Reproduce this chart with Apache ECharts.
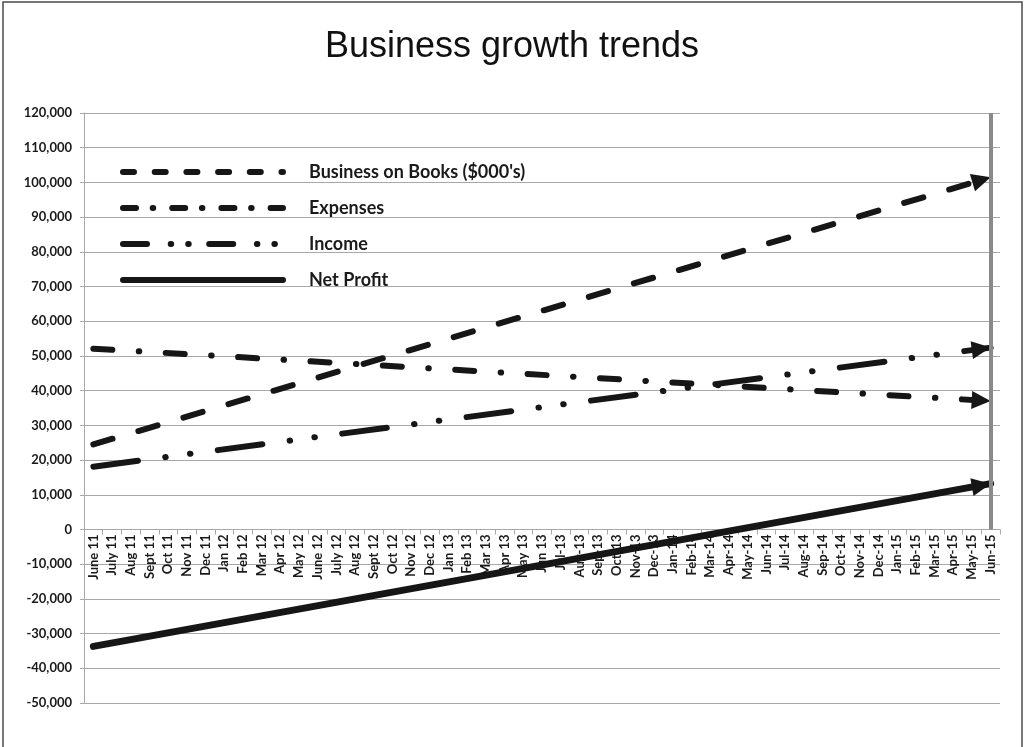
<!DOCTYPE html>
<html>
<head>
<meta charset="utf-8">
<title>Business growth trends</title>
<script src="https://cdn.jsdelivr.net/npm/echarts@6/dist/echarts.min.js"></script>
<style>
  html, body { margin: 0; padding: 0; background: #fff; }
  #chart { width: 1024px; height: 747px; }
</style>
</head>
<body>
<div id="chart"></div>
<script>
// month categories, June 2011 .. June 2015
var months = [
  'June 11', 'July 11', 'Aug 11', 'Sept 11', 'Oct 11', 'Nov 11', 'Dec 11',
  'Jan 12', 'Feb 12', 'Mar 12', 'Apr 12', 'May 12', 'June 12', 'July 12',
  'Aug 12', 'Sept 12', 'Oct 12', 'Nov 12', 'Dec 12',
  'Jan 13', 'Feb 13', 'Mar 13', 'Apr 13', 'May 13', 'Jun 13',
  'Jul-13', 'Aug-13', 'Sep-13', 'Oct-13', 'Nov-13', 'Dec-13',
  'Jan-14', 'Feb-14', 'Mar-14', 'Apr-14', 'May-14', 'Jun-14',
  'Jul-14', 'Aug-14', 'Sep-14', 'Oct-14', 'Nov-14', 'Dec-14',
  'Jan-15', 'Feb-15', 'Mar-15', 'Apr-15', 'May-15', 'Jun-15'
];

// trend lines: value at first month, value at last month
var businessOnBooks = [24500, 101500];
var expenses = [52100, 37000];
var income = [18100, 52400];
var netProfit = [-33700, 13200];

var seriesNames = ["Business on Books ($000's)", 'Expenses', 'Income', 'Net Profit'];

var lineColor = '#161616';
var gridColor = '#a8a8a8';
var labelFont = 'Lato, "Open Sans", sans-serif';

var chart = echarts.init(document.getElementById('chart'));

function trend(vals, extra) {
  return [
    { value: [months[0], vals[0]], symbol: 'none' },
    Object.assign({ value: [months[months.length - 1], vals[1]] }, extra || {})
  ];
}

function makeSeries(arrows) {
  arrows = arrows || [];
  return [
    {
      name: seriesNames[0],
      type: 'line',
      symbol: 'none',
      showAllSymbol: true,
      lineStyle: { color: lineColor, width: 6, cap: 'round', type: [20, 27] },
      itemStyle: { color: lineColor },
      data: trend(businessOnBooks, arrows[0])
    },
    {
      name: seriesNames[1],
      type: 'line',
      symbol: 'none',
      showAllSymbol: true,
      lineStyle: { color: lineColor, width: 6, cap: 'round', type: [19, 26.5, 0.5, 26.5] },
      itemStyle: { color: lineColor },
      data: trend(expenses, arrows[1])
    },
    {
      name: seriesNames[2],
      type: 'line',
      symbol: 'none',
      showAllSymbol: true,
      lineStyle: { color: lineColor, width: 6, cap: 'round', type: [45, 27.5, 0.5, 24.5, 0.5, 27.5] },
      itemStyle: { color: lineColor },
      data: trend(income, arrows[2])
    },
    {
      name: seriesNames[3],
      type: 'line',
      symbol: 'none',
      showAllSymbol: true,
      lineStyle: { color: lineColor, width: 7, cap: 'round' },
      itemStyle: { color: lineColor },
      data: trend(netProfit, arrows[3]),
      markLine: {
        silent: true,
        symbol: ['none', 'none'],
        label: { show: false },
        lineStyle: { color: '#8a8a8a', width: 4, type: 'solid' },
        data: [[
          { coord: [months[months.length - 1], 0] },
          { coord: [months[months.length - 1], 120000] }
        ]]
      }
    }
  ];
}

chart.setOption({
  animation: false,
  backgroundColor: '#fff',
  title: {
    text: 'Business growth trends',
    left: 'center',
    top: 24,
    textStyle: {
      fontFamily: '"Liberation Sans", Arial, sans-serif',
      fontSize: 36,
      fontWeight: 'normal',
      color: '#111'
    }
  },
  graphic: [{
    type: 'rect',
    silent: true,
    shape: { x: 3, y: 2, width: 1019, height: 780 },
    style: { fill: 'none', stroke: '#4a4a4a', lineWidth: 1.5 }
  }],
  legend: {
    orient: 'vertical',
    left: 115,
    top: 158,
    itemWidth: 160,
    itemHeight: 18,
    itemGap: 18,
    selectedMode: false,
    itemStyle: { opacity: 0, borderWidth: 0 },
    lineStyle: { width: 6, cap: 'round', color: lineColor },
    textStyle: {
      fontFamily: labelFont,
      fontSize: 18,
      fontWeight: 'bold',
      color: '#1a1a1a',
      padding: [0, 0, 0, 21]
    },
    data: [
      { name: seriesNames[0], lineStyle: { width: 6, cap: 'round', type: [11, 20.7] } },
      { name: seriesNames[1], lineStyle: { width: 6, cap: 'round', type: [13, 16.7, 0.5, 19] } },
      { name: seriesNames[2], lineStyle: { width: 6, cap: 'round', type: [24, 23.7, 0.5, 17, 0.5, 20.5] } },
      { name: seriesNames[3], lineStyle: { width: 6, cap: 'round', type: 'solid' } }
    ]
  },
  grid: {
    left: 84,
    right: 24,
    top: 113,
    bottom: 44,
    containLabel: false,
    outerBoundsMode: 'none'
  },
  xAxis: {
    type: 'category',
    data: months,
    boundaryGap: true,
    axisLine: { onZero: false, lineStyle: { color: gridColor, width: 1 } },
    axisTick: { show: true, interval: 0, length: 5, lineStyle: { color: gridColor } },
    axisLabel: {
      interval: 0,
      rotate: 90,
      margin: 5,
      fontFamily: labelFont,
      fontSize: 13,
      fontWeight: 'bold',
      color: '#1a1a1a'
    },
    splitLine: { show: false }
  },
  yAxis: {
    type: 'value',
    min: -50000,
    max: 120000,
    interval: 10000,
    axisLine: { show: true, lineStyle: { color: gridColor, width: 1 } },
    axisTick: { show: true, length: 4, lineStyle: { color: gridColor } },
    splitLine: { lineStyle: { color: gridColor, width: 1 } },
    axisLabel: {
      margin: 12,
      fontFamily: labelFont,
      fontSize: 13,
      fontWeight: 'bold',
      color: '#1a1a1a',
      formatter: function (v) { return v.toLocaleString('en-US'); }
    }
  },
  series: makeSeries()
});

// arrow heads: rotate each triangle to the slope of its line on screen
function arrowFor(vals) {
  var p0 = chart.convertToPixel({ gridIndex: 0 }, [0, vals[0]]);
  var p1 = chart.convertToPixel({ gridIndex: 0 }, [months.length - 1, vals[1]]);
  var ang = Math.atan2(p0[1] - p1[1], p1[0] - p0[0]);
  var len = 19;
  return {
    symbol: 'triangle',
    symbolSize: [18, len],
    symbolRotate: ang * 180 / Math.PI - 90,
    symbolOffset: [-len / 2 * Math.cos(ang), len / 2 * Math.sin(ang)]
  };
}

// move the category axis up so it sits on the zero line
var zeroY = chart.convertToPixel({ yAxisIndex: 0 }, 0);
var bottomY = chart.convertToPixel({ yAxisIndex: 0 }, -50000);

chart.setOption({
  xAxis: { offset: zeroY - bottomY },
  series: makeSeries([
    arrowFor(businessOnBooks),
    arrowFor(expenses),
    arrowFor(income),
    arrowFor(netProfit)
  ])
});
</script>
</body>
</html>
